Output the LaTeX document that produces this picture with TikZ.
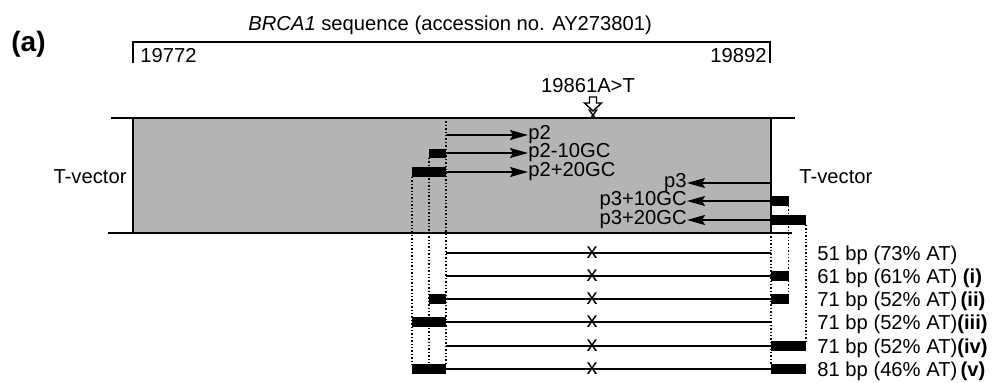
\documentclass[tikz,border=0pt]{standalone}
\usepackage{fontspec}
\setmainfont{Liberation Sans}
\usetikzlibrary{arrows.meta}
\definecolor{boxgray}{RGB}{180,180,180}
\begin{document}
\begin{tikzpicture}[x=0.5pt,y=-0.5pt,
  lbl/.style={inner sep=0pt, font=\fontsize{10.1}{12}\selectfont},
  ln/.style={line width=0.75pt},
  prim/.style={line width=0.85pt, -{Stealth[length=9pt,width=5pt,inset=1.5pt]}},
  dots/.style={line width=0.7pt, dash pattern=on 0.7pt off 1pt},
  frag/.style={line width=1pt},
  mk/.style={inner sep=0pt, font=\fontsize{11}{12}\selectfont}
]
\useasboundingbox (0,0) rectangle (993,382);

% panel label and title
\node[lbl, font=\fontsize{14}{16}\selectfont\bfseries, anchor=base west] (panel) at (11,51) {(a)};
\node[lbl, anchor=base west] (title) at (248,30) {\textit{BRCA1} sequence (accession no. AY273801)};

% bracket
\coordinate (bl) at (133,63); \coordinate (br) at (770,63);
\draw[ln] (bl) -- (133,42) -- (770,42) -- (br);
\node[lbl, anchor=base west] (n19772) at (140,62) {19772};
\node[lbl, anchor=base east] (n19892) at (767,62) {19892};

% mutation
\node[lbl, anchor=base] (mut) at (588,92) {19861A>T};
\draw[line width=0.7pt, fill=white] (589.5,97) -- (596.5,97) -- (596.5,103) -- (601.5,103) -- (593,111) -- (584.5,103) -- (589.5,103) -- cycle;
\node[mk] (xtop) at (593,115.5) {x};

% grey T-vector box
\fill[boxgray] (133,118) rectangle (771,233);
\draw[ln] (111,118) -- (795,118);
\draw[ln] (108,233) -- (792,233);
\draw[ln] (133,118) -- (133,233);
\draw[ln] (771,118) -- (771,233);
\node[lbl] (tvl) at (90,177) {T-vector};
\node[lbl, anchor=west] (tvr) at (799,177) {T-vector};

% forward primers
\coordinate (f1) at (446,135); \coordinate (f2) at (446,153); \coordinate (f3) at (446,172);
\node[lbl, anchor=west] (p2) at (528,135) {p2};
\node[lbl, anchor=west] (p2a) at (528,153) {p2-10GC};
\node[lbl, anchor=west] (p2b) at (528,172) {p2+20GC};
\draw[prim] (f1) -- (p2.west);
\draw[prim] (f2) -- (p2a.west);
\draw[prim] (f3) -- (p2b.west);
\fill (429,148.5) rectangle (446,158);
\fill (412,167) rectangle (446,177);

% reverse primers
\coordinate (r1) at (771,183); \coordinate (r2) at (771,201); \coordinate (r3) at (771,220);
\node[lbl, anchor=east] (p3) at (687,183) {p3};
\node[lbl, anchor=east] (p3a) at (687,201) {p3+10GC};
\node[lbl, anchor=east] (p3b) at (687,220) {p3+20GC};
\draw[prim] (r1) -- (p3.east);
\draw[prim] (r2) -- (p3a.east);
\draw[prim] (r3) -- (p3b.east);
\fill (771,196) rectangle (789,206);
\fill (771,215) rectangle (806,225);

% dotted guide lines
\draw[dots] (446,118) -- (446,365);
\draw[dots] (429,158) -- (429,365);
\draw[dots] (412,177) -- (412,365);
\draw[dots] (771,233) -- (771,365);
\draw[dots] (788.5,206) -- (788.5,295);
\draw[dots] (806,225) -- (806,342);

% amplicons
\foreach \i/\y in {1/253,2/276,3/299,4/322,5/346,6/369}{
  \coordinate (aL\i) at (446,\y);
  \coordinate (aR\i) at (771,\y);
  \draw[frag] (aL\i) -- (aR\i);
  \node[mk] (ax\i) at (592,\y) {x};
}
% bars on amplicons
\fill (771,271) rectangle (789,281);
\fill (429,294) rectangle (446,304);
\fill (771,294) rectangle (788.5,304);
\fill (412,317) rectangle (446,327);
\fill (771,341) rectangle (806,351);
\fill (412,364) rectangle (446,374);
\fill (771,364) rectangle (806,374);

\node[lbl, anchor=west] (t1) at (817,255) {51 bp (73\% AT)};
\node[lbl, anchor=west] (t2) at (817,278) {61 bp (61\% AT) \textbf{(i)}};
\node[lbl, anchor=west] (t3) at (817,301) {71 bp (52\% AT)\,\textbf{(ii)}};
\node[lbl, anchor=west] (t4) at (817,324) {71 bp (52\% AT)\textbf{(iii)}};
\node[lbl, anchor=west] (t5) at (817,348) {71 bp (52\% AT)\textbf{(iv)}};
\node[lbl, anchor=west] (t6) at (817,371) {81 bp (46\% AT)\,\textbf{(v)}};
\end{tikzpicture}
\end{document}
